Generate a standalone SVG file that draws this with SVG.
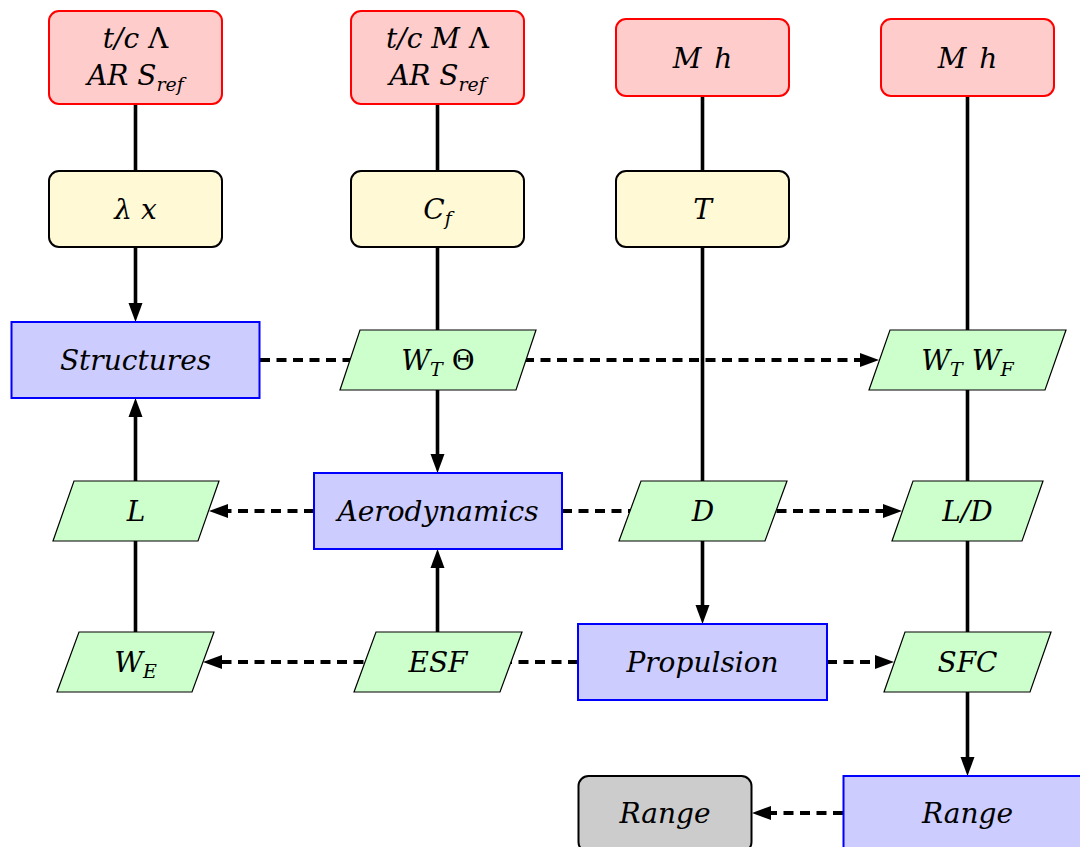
<svg xmlns="http://www.w3.org/2000/svg" width="1080" height="847" viewBox="0 0 1080 847">
<style>
.t{font-family:"DejaVu Serif",serif;font-style:italic;font-size:28px;fill:#000;text-anchor:middle}
.up{font-style:normal}
.sub{font-size:19px}
.red{fill:#FFCCCC;stroke:#FF0000;stroke-width:2}
.yel{fill:#FFF9D5;stroke:#000;stroke-width:2}
.blu{fill:#CCCCFF;stroke:#0000FF;stroke-width:2}
.grn{fill:#CCFFCC;stroke:#000;stroke-width:1.2}
.gry{fill:#CCCCCC;stroke:#000;stroke-width:2}
.sol{fill:none;stroke:#000;stroke-width:3.6}
.dash{fill:none;stroke:#000;stroke-width:3.8;stroke-dasharray:10 6.5}
.arr{marker-end:url(#ah)}
</style>
<defs>
<marker id="ah" markerUnits="userSpaceOnUse" markerWidth="22" markerHeight="16" refX="9" refY="7.5" orient="auto">
<path d="M0,0.5 L19,7.5 L0,14.5 z" fill="#000"/>
</marker>
</defs>
<rect width="1080" height="847" fill="#fff"/>
<g id="connectors">
<path class="sol" d="M135.5,104 V171"/>
<path class="sol arr" d="M135.5,247 V312"/>
<path class="sol arr" d="M135.5,481 V408"/>
<path class="sol" d="M135.5,632 V541"/>
<path class="sol" d="M437.5,104 V171"/>
<path class="sol" d="M437.5,247 V330"/>
<path class="sol arr" d="M437.5,390 V463"/>
<path class="sol arr" d="M437.5,632 V559"/>
<path class="sol" d="M702.5,96 V171"/>
<path class="sol arr" d="M702.5,247 V614"/>
<path class="sol" d="M967.5,96 V632"/>
<path class="sol arr" d="M967.5,692 V766"/>
<path class="dash arr" d="M260,360 H869"/>
<path class="dash arr" d="M314,511 H219"/>
<path class="dash arr" d="M562,511 H892"/>
<path class="dash arr" d="M578,662 H213"/>
<path class="dash arr" d="M827,662 H884"/>
<path class="dash arr" d="M843,813 H762"/>
</g>
<g id="in1"><rect class="red" x="49" y="11" width="173" height="93" rx="10"/>
<text class="t" x="135.5" y="48">t/c <tspan class="up">Λ</tspan></text>
<text class="t" x="135.5" y="85">AR S<tspan class="sub" dy="6">ref</tspan></text></g>
<g id="in2"><rect class="red" x="351" y="11" width="173" height="93" rx="10"/>
<text class="t" x="437.5" y="48">t/c M <tspan class="up">Λ</tspan></text>
<text class="t" x="437.5" y="85">AR S<tspan class="sub" dy="6">ref</tspan></text></g>
<g id="in3"><rect class="red" x="616" y="19" width="173" height="77" rx="10"/>
<text class="t" x="702.5" y="68">M <tspan dx="4">h</tspan></text></g>
<g id="in4"><rect class="red" x="881" y="19" width="173" height="77" rx="10"/>
<text class="t" x="967.5" y="68">M <tspan dx="4">h</tspan></text></g>
<g id="p1"><rect class="yel" x="49" y="171" width="173" height="76" rx="10"/>
<text class="t" x="135.5" y="219">λ x</text></g>
<g id="p2"><rect class="yel" x="351" y="171" width="173" height="76" rx="10"/>
<text class="t" x="437.5" y="219">C<tspan class="sub" dy="6">f</tspan></text></g>
<g id="p3"><rect class="yel" x="616" y="171" width="173" height="76" rx="10"/>
<text class="t" x="702.5" y="219">T</text></g>
<g id="structures"><rect class="blu" x="11.5" y="322" width="248" height="76"/>
<text class="t" x="135.5" y="370">Structures</text></g>
<g id="wt-theta"><polygon class="grn" points="340,390 516,390 536,330 360,330"/>
<text class="t" x="438" y="370">W<tspan class="sub" dy="6">T</tspan><tspan dy="-6"> </tspan><tspan class="up">Θ</tspan></text></g>
<g id="wt-wf"><polygon class="grn" points="869,390 1045,390 1066,330 890,330"/>
<text class="t" x="967.5" y="370">W<tspan class="sub" dy="6">T</tspan><tspan dy="-6"> W</tspan><tspan class="sub" dy="6">F</tspan></text></g>
<g id="aero"><rect class="blu" x="314" y="473" width="248" height="76"/>
<text class="t" x="438" y="521">Aerodynamics</text></g>
<g id="lift"><polygon class="grn" points="53,541 198,541 219,481 74,481"/>
<text class="t" x="136" y="521">L</text></g>
<g id="drag"><polygon class="grn" points="619,541 765,541 787,481 641,481"/>
<text class="t" x="703" y="521">D</text></g>
<g id="ld"><polygon class="grn" points="892,541 1022,541 1043,481 913,481"/>
<text class="t" x="967.5" y="521">L/D</text></g>
<g id="propulsion"><rect class="blu" x="578" y="624" width="249" height="76"/>
<text class="t" x="702.5" y="672">Propulsion</text></g>
<g id="we"><polygon class="grn" points="57,692 192,692 214,632 79,632"/>
<text class="t" x="135.5" y="672">W<tspan class="sub" dy="6">E</tspan></text></g>
<g id="esf"><polygon class="grn" points="354,692 500,692 522,632 376,632"/>
<text class="t" x="438" y="672">ESF</text></g>
<g id="sfc"><polygon class="grn" points="884,692 1030,692 1051,632 905,632"/>
<text class="t" x="967.5" y="672">SFC</text></g>
<g id="range"><rect class="blu" x="843.5" y="776" width="249" height="76"/>
<text class="t" x="967.5" y="823">Range</text></g>
<g id="range-out"><rect class="gry" x="578.5" y="776" width="173" height="76" rx="10"/>
<text class="t" x="665" y="823">Range</text></g>
</svg>
